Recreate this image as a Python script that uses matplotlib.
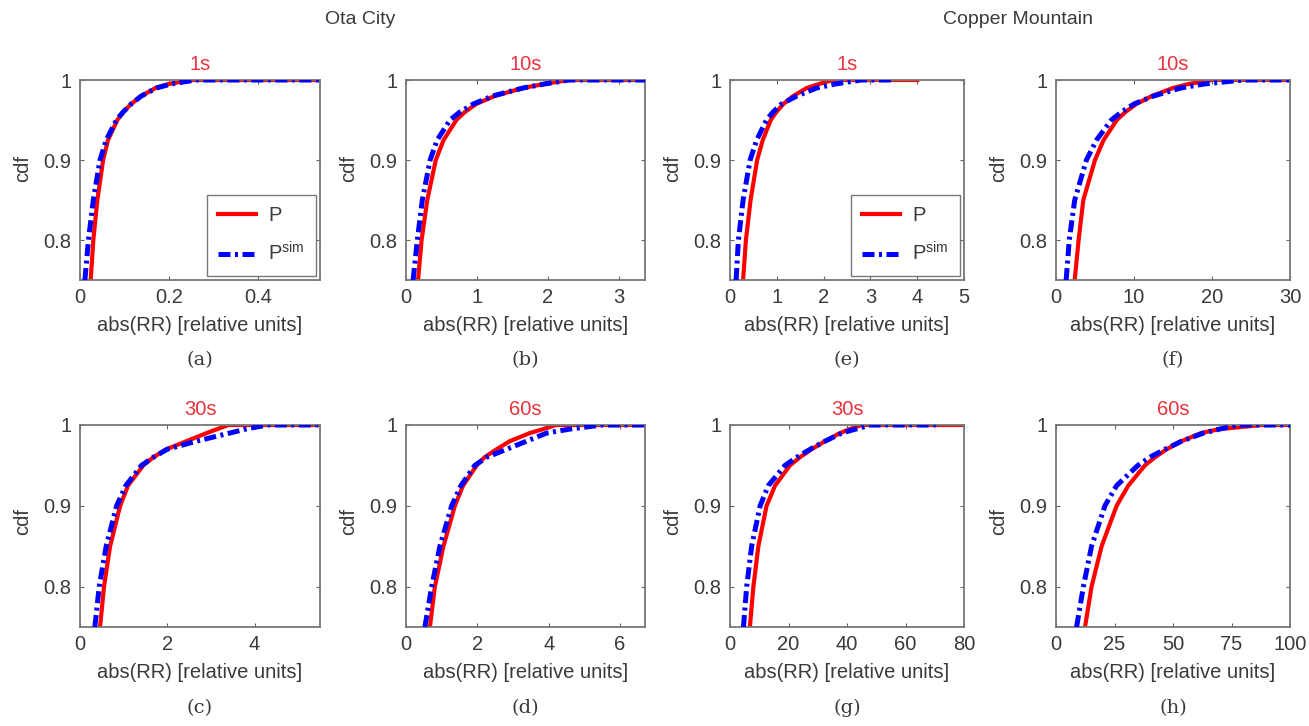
import numpy as np
import matplotlib.pyplot as plt

plt.rcParams['font.family'] = ['Liberation Sans', 'DejaVu Sans']

# cdf levels shared by every curve (x values at these levels)
Y_LEVELS = [0.75, 0.8, 0.85, 0.9, 0.925, 0.95, 0.96, 0.97, 0.98, 0.99, 0.995, 1.0, 1.0]

# Ota City
a_P = [0.024, 0.030, 0.039, 0.052, 0.063, 0.084, 0.098, 0.115, 0.138, 0.17, 0.20, 0.25, 0.54]
a_S = [0.011, 0.019, 0.030, 0.045, 0.059, 0.082, 0.097, 0.115, 0.138, 0.172, 0.205, 0.26, 0.54]
b_P = [0.17, 0.22, 0.30, 0.42, 0.53, 0.71, 0.83, 0.99, 1.25, 1.65, 1.95, 2.3, 3.37]
b_S = [0.10, 0.16, 0.23, 0.34, 0.44, 0.62, 0.76, 0.95, 1.22, 1.65, 1.95, 2.3, 3.37]
c_P = [0.46, 0.55, 0.69, 0.92, 1.10, 1.45, 1.68, 1.98, 2.44, 2.9, 3.15, 3.4, 5.5]
c_S = [0.34, 0.44, 0.60, 0.84, 1.05, 1.41, 1.68, 2.00, 2.67, 3.43, 3.8, 4.3, 5.5]
d_P = [0.67, 0.81, 1.05, 1.37, 1.60, 1.98, 2.20, 2.54, 2.91, 3.47, 3.85, 4.2, 6.7]
d_S = [0.53, 0.72, 0.95, 1.28, 1.54, 1.93, 2.26, 2.82, 3.38, 3.94, 4.6, 5.5, 6.7]
# Copper Mountain
e_P = [0.28, 0.34, 0.44, 0.58, 0.70, 0.87, 0.99, 1.14, 1.35, 1.64, 1.9, 2.2, 4.0]
e_S = [0.13, 0.18, 0.28, 0.43, 0.57, 0.78, 0.92, 1.10, 1.43, 1.85, 2.25, 2.8, 3.5]
f_P = [2.4, 2.9, 3.5, 5.0, 6.1, 7.8, 8.9, 10.3, 12.3, 15.0, 17.0, 20.0, 30.0]
f_S = [1.3, 1.7, 2.4, 3.9, 5.2, 7.1, 8.4, 10.0, 12.5, 16.0, 19.0, 24.0, 30.0]
g_P = [6.8, 8.0, 9.7, 12.5, 15.4, 20.5, 23.9, 27.9, 32.5, 37.6, 41.0, 45.0, 80.0]
g_S = [4.6, 5.7, 7.4, 10.3, 13.1, 18.8, 22.8, 27.4, 32.5, 38.2, 43.0, 48.0, 72.0]
h_P = [12.4, 15.2, 19.5, 25.9, 30.9, 38.0, 42.3, 47.3, 53.7, 62.0, 70.0, 88.0, 100.0]
h_S = [8.8, 11.7, 15.2, 20.9, 25.9, 35.0, 40.0, 46.6, 53.7, 63.0, 70.0, 78.0, 100.0]

panels = [
    ('(a)', '1s', a_P, a_S, 0.54, [0, 0.2, 0.4], ['0', '0.2', '0.4']),
    ('(b)', '10s', b_P, b_S, 3.37, [0, 1, 2, 3], None),
    ('(e)', '1s', e_P, e_S, 5, [0, 1, 2, 3, 4, 5], None),
    ('(f)', '10s', f_P, f_S, 30, [0, 10, 20, 30], None),
    ('(c)', '30s', c_P, c_S, 5.5, [0, 2, 4], None),
    ('(d)', '60s', d_P, d_S, 6.7, [0, 2, 4, 6], None),
    ('(g)', '30s', g_P, g_S, 80, [0, 20, 40, 60, 80], None),
    ('(h)', '60s', h_P, h_S, 100, [0, 25, 50, 75, 100], None),
]

W, H = 1309, 726
fig = plt.figure(figsize=(W / 100, H / 100), dpi=100)

lefts = [80, 406, 730, 1056]
widths = [240, 239, 234, 234]
rows = [(80, 280), (425, 627)]

txt = '#3a3a3a'
title_red = '#e8333c'
fs = 14.5

for i, (tag, title, xp, xs, xmax, xt, xtl) in enumerate(panels):
    r, c = divmod(i, 4)
    top, bot = rows[r]
    ax = fig.add_axes([lefts[c] / W, (H - bot) / H, widths[c] / W, (bot - top) / H])
    ax.plot(xp, Y_LEVELS, color='#ff0000', lw=3.0, label='P', zorder=2)
    ax.plot(xs, Y_LEVELS, color='#0000ff', lw=3.6, ls=(0, (2.4, 0.9, 0.6, 0.9)),
            label='P$^{\\mathregular{sim}}$', zorder=3)
    ax.set_xlim(0, xmax)
    ax.set_ylim(0.75, 1.0)
    ax.set_xticks(xt)
    if xtl:
        ax.set_xticklabels(xtl)
    ax.set_yticks([0.8, 0.9, 1.0])
    ax.set_yticklabels(['0.8', '0.9', '1'])
    ax.tick_params(direction='in', top=True, right=True, length=3, width=0.8,
                   colors='#666666', labelsize=fs, labelcolor=txt, pad=6)
    for sp in ax.spines.values():
        sp.set_color('#777777')
        sp.set_linewidth(1.3)
    ax.set_xlabel('abs(RR) [relative units]', fontsize=fs, color=txt, labelpad=6)
    ax.set_ylabel('cdf', fontsize=fs, color=txt)
    ax.yaxis.set_label_coords(-48 / widths[c], 0.56 if r == 0 else 0.52)
    ax.set_title(title, color=title_red, fontsize=fs, pad=7)
    ax.text(0.5, -0.4, tag, transform=ax.transAxes, ha='center', va='center',
            fontsize=14, family='DejaVu Serif', color=txt)
    if tag in ('(a)', '(e)'):
        leg = ax.legend(loc='lower right', fontsize=fs, handlelength=1.9,
                        handletextpad=0.6, borderpad=0.55, labelspacing=0.85,
                        fancybox=False, borderaxespad=0.2)
        leg.get_frame().set_edgecolor('#555555')
        leg.get_frame().set_linewidth(1.0)
        for t in leg.get_texts():
            t.set_color(txt)

fig.text(360 / W, 1 - 20 / H, 'Ota City', ha='center', va='center', fontsize=14, color=txt)
fig.text(1018 / W, 1 - 20 / H, 'Copper Mountain', ha='center', va='center', fontsize=14, color=txt)

fig.savefig('out.png', dpi=100, facecolor='white')
